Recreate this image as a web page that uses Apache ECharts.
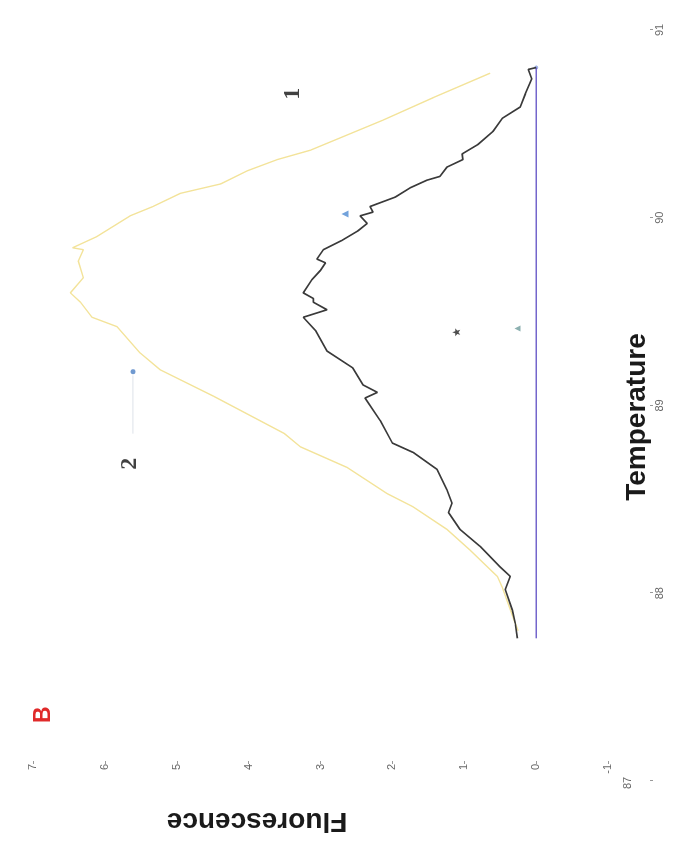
<!DOCTYPE html>
<html><head><meta charset="utf-8">
<script src="https://cdn.jsdelivr.net/npm/echarts@6/dist/echarts.min.js"></script>
<style>
html,body{margin:0;padding:0;background:#fff;overflow:hidden;width:684px;height:853px}
#c{position:absolute;left:0;top:0;width:853px;height:684px;transform-origin:0 0;transform:translate(0,853px) rotate(-90deg);}
</style></head><body><div id="c"></div>
<script>
// ---- data ----
const tempTicks = [87, 88, 89, 90, 91];
const fluorTicks = [-1, 0, 1, 2, 3, 4, 5, 6, 7];

// curve 1 (black)
const curve1Temp  = [87.76,87.84,87.91,88.02,88.09,88.14,88.25,88.34,88.43,88.48,88.55,88.66,88.75,88.80,88.92,89.04,89.07,89.11,89.20,89.29,89.40,89.47,89.51,89.55,89.57,89.60,89.67,89.72,89.76,89.78,89.83,89.88,89.93,89.97,90.01,90.03,90.06,90.11,90.16,90.20,90.22,90.27,90.31,90.34,90.39,90.46,90.53,90.59,90.66,90.74,90.79,90.80];
const curve1Fluor = [0.26,0.29,0.33,0.43,0.36,0.50,0.78,1.06,1.22,1.17,1.24,1.38,1.71,2.00,2.17,2.38,2.21,2.41,2.55,2.91,3.07,3.24,2.91,3.10,3.10,3.24,3.12,3.00,2.93,3.05,2.96,2.70,2.48,2.35,2.45,2.27,2.31,1.96,1.75,1.52,1.34,1.24,1.02,1.03,0.81,0.60,0.47,0.22,0.15,0.06,0.11,0.00];

// curve 2 (yellow)
const curve2Temp  = [87.80,87.84,88.03,88.09,88.23,88.34,88.46,88.53,88.67,88.78,88.85,89.05,89.19,89.28,89.42,89.47,89.55,89.60,89.68,89.77,89.83,89.84,89.90,90.01,90.06,90.13,90.18,90.25,90.31,90.36,90.52,90.64,90.77];
const curve2Fluor = [0.25,0.29,0.47,0.54,0.92,1.24,1.71,2.07,2.63,3.28,3.50,4.49,5.23,5.51,5.83,6.18,6.34,6.48,6.30,6.37,6.30,6.45,6.11,5.65,5.33,4.95,4.39,4.02,3.60,3.14,2.13,1.43,0.64];

// baseline (purple)
const baseTemp  = [87.76, 90.80];
const baseFluor = [0, 0];

// single markers
const markCircleBlue  = [89.18, 5.61];
const markTriBlue     = [90.02, 2.66];
const markStarBlack   = [89.39, 1.11];
const markTriGreen    = [89.41, 0.26];

// leader line for label "2"
const leaderTemp  = [89.16, 88.85];
const leaderFluor = [5.61, 5.61];

// curve labels
const labelNames = ['1', '2'];
const labelTemp  = [90.66, 88.69];
const labelFluor = [3.39, 5.65];

const zip = (a, b) => a.map((v, i) => [v, b[i]]);

const chart = echarts.init(document.getElementById('c'), null, {renderer: 'canvas'});
const starPath = 'path://M0,-10 L2.5,-3 L9.5,-3 L4,1.5 L6,9 L0,4.5 L-6,9 L-4,1.5 L-9.5,-3 L-2.5,-3 Z';

chart.setOption({
  backgroundColor: '#ffffff',
  animation: false,
  grid: {left: 72, right: 30, top: 33, bottom: 76},
  xAxis: {
    type: 'value', min: tempTicks[0], max: tempTicks[tempTicks.length - 1], interval: 1,
    offset: 42,
    axisLine: {show: false, onZero: false},
    axisTick: {show: true, length: 3, lineStyle: {color: '#999'}},
    axisLabel: {margin: 4, fontSize: 11, color: '#666', fontFamily: 'Liberation Sans',
                formatter: v => (v === tempTicks[0] ? '' : String(v))},
    splitLine: {show: false}
  },
  yAxis: {
    type: 'value', min: fluorTicks[0], max: fluorTicks[fluorTicks.length - 1], interval: 1,
    offset: -20,
    axisLine: {show: false, onZero: false},
    axisTick: {show: true, length: 3, lineStyle: {color: '#999'}},
    axisLabel: {margin: 3, fontSize: 11, color: '#666', fontFamily: 'Liberation Sans'},
    splitLine: {show: false}
  },
  graphic: [
    {type: 'text', left: 130, top: 32, style: {text: 'B', fill: '#e02a2a', font: 'bold 23px "Liberation Sans"'}},
    {type: 'text', x: 70, y: 628, style: {text: String(tempTicks[0]), fill: '#666', font: '11px "Liberation Sans"', align: 'center', verticalAlign: 'middle'}},
    {type: 'text', x: 32, y: 257, rotation: Math.PI / 2,
     style: {text: 'Fluorescence', fill: '#1a1a1a', font: 'bold 28px "Liberation Sans"', align: 'center', verticalAlign: 'middle'}},
    {type: 'text', x: 436, y: 637,
     style: {text: 'Temperature', fill: '#1a1a1a', font: 'bold 28px "Liberation Sans"', align: 'center', verticalAlign: 'middle'}}
  ],
  series: [
    {type: 'line', data: zip(baseTemp, baseFluor), showSymbol: false, symbol: 'none',
     lineStyle: {color: '#7466cc', width: 1.5}},
    {type: 'line', data: zip(curve2Temp, curve2Fluor), symbol: 'none',
     lineStyle: {color: '#f3e39a', width: 1.4}},
    {type: 'line', data: zip(curve1Temp, curve1Fluor), symbol: 'none',
     lineStyle: {color: '#3a3a3a', width: 1.7}},
    {type: 'line', data: zip(leaderTemp, leaderFluor), symbol: 'none',
     lineStyle: {color: '#dde2ea', width: 1}},
    {type: 'scatter', data: [markCircleBlue], symbol: 'circle', symbolSize: 5, itemStyle: {color: '#4c80c4'}},
    {type: 'scatter', data: [markTriBlue], symbol: 'triangle', symbolSize: 7, itemStyle: {color: '#4f8bd2'}},
    {type: 'scatter', data: [markStarBlack], symbol: starPath, symbolSize: 8, itemStyle: {color: '#222'}},
    {type: 'scatter', data: [markTriGreen], symbol: 'triangle', symbolSize: 6, itemStyle: {color: '#6f9c9c'}},
    {type: 'scatter', data: [[baseTemp[1], baseFluor[1]]], symbol: 'circle', symbolSize: 4, itemStyle: {color: '#8aa0e0'}},
    {type: 'scatter', symbol: 'circle', symbolSize: 2, itemStyle: {color: 'rgba(255,255,255,0)'},
     data: labelNames.map((n, i) => ({name: n, value: [labelTemp[i], labelFluor[i]]})),
     label: {show: true, position: 'inside', formatter: p => p.name, fontSize: 24, fontWeight: 'bold',
             fontFamily: 'Liberation Serif', color: '#111'}}
  ]
});
</script></body></html>
